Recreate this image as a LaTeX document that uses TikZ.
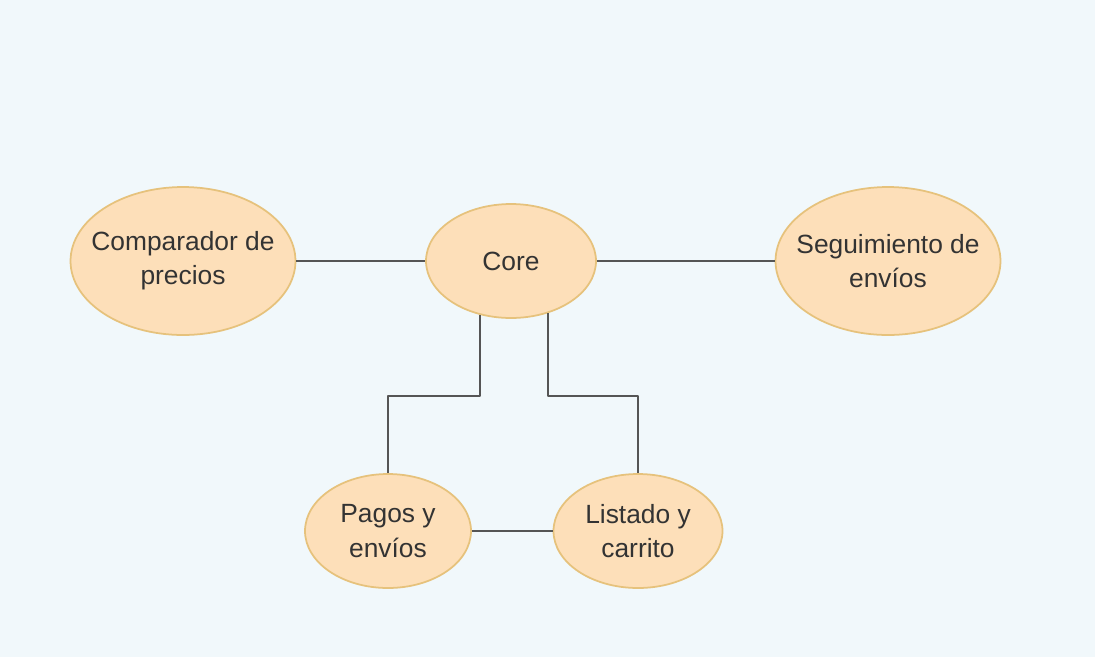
\documentclass[tikz,border=0pt]{standalone}
\usepackage{fontspec}
\setmainfont{Liberation Sans}
\usetikzlibrary{shapes.geometric}
\definecolor{bgblue}{HTML}{F1F8FB}
\definecolor{peach}{HTML}{FDDFB9}
\definecolor{gold}{HTML}{E6C27C}
\definecolor{wire}{HTML}{555555}
\definecolor{ink}{HTML}{333333}
\tikzset{
  module/.style={ellipse, draw=gold, line width=1pt, fill=peach, inner ysep=0pt,
    inner xsep=-0.3cm, text=ink, align=center, font=\fontsize{15}{19.5}\selectfont},
  bigmod/.style={module, minimum width=4.5cm, minimum height=2.96cm},
  smallmod/.style={module, minimum width=3.36cm, minimum height=2.28cm},
  link/.style={draw=wire, line width=1pt}
}
\begin{document}
\begin{tikzpicture}[x=0.02cm, y=-0.02cm, line join=round]
    \fill[bgblue] (0,0) rectangle (1095,657);
    \useasboundingbox (0,0) rectangle (1095,657);
    % modules
    \node[bigmod] (comparador) at (183,261) {Comparador de\\precios};
    \node[smallmod, minimum width=3.4cm] (core) at (511,261) {Core};
    \node[bigmod] (seguimiento) at (888,261) {Seguimiento de\\envíos};
    \node[smallmod, minimum width=3.32cm] (pagos) at (388,531) {Pagos y\\envíos};
    \node[smallmod, minimum width=3.38cm] (listado) at (638,531) {Listado y\\carrito};
    \coordinate (jl) at (388,396);
    \coordinate (jr) at (638,396);
    % connectors
    \draw[link] (comparador) -- (core);
    \draw[link] (core) -- (seguimiento);
    \draw[link] (core.240) |- (jl) -- (pagos.north);
    \draw[link] (core.305) |- (jr) -- (listado.north);
    \draw[link] (pagos) -- (listado);
\end{tikzpicture}
\end{document}
